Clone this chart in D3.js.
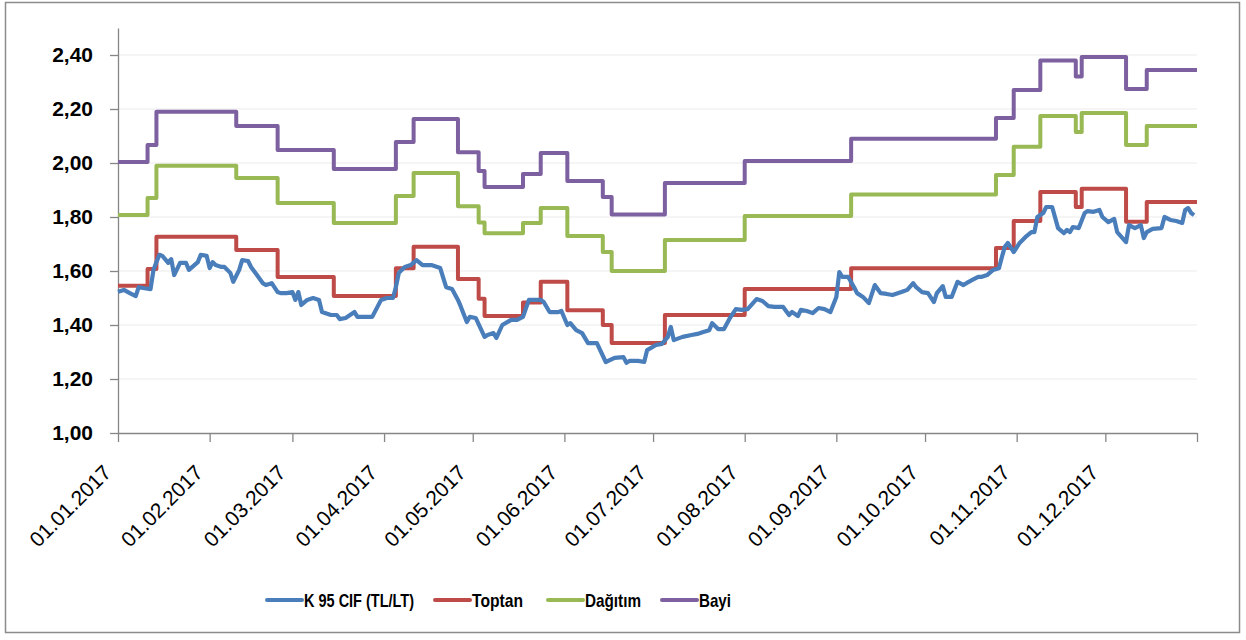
<!DOCTYPE html>
<html>
<head>
<meta charset="utf-8">
<script src="https://cdn.jsdelivr.net/npm/d3@7"></script>
<style>
    body { margin: 0; background: #fff; }
    text { font-family: "Liberation Sans", Arial, sans-serif; }
</style>
</head>
<body>
<div id="chart"></div>
<script>
const CANVAS = { w: 1246, h: 640 };
const PLOT = { left: 118, right: 1197, top: 28, bottom: 433 };

const startDate = new Date(2017, 0, 1);
const endDate = new Date(2018, 0, 1);

const yTicks = [1.0, 1.2, 1.4, 1.6, 1.8, 2.0, 2.2, 2.4];
const monthTicks = d3.timeMonth.range(startDate, endDate);

const seriesNames = ["K 95 CIF (TL/LT)", "Toptan", "Dağıtım", "Bayi"];
const seriesColors = ["#4a7ebb", "#be4b48", "#98b954", "#7d60a0"];

// [day of year, TL/LT]
const cifData = [
    [0, 1.523], [2, 1.53], [4, 1.518], [6, 1.507], [7, 1.54], [9, 1.536], [11, 1.533],
    [12, 1.604], [13, 1.633], [14, 1.66], [15, 1.656], [17, 1.63], [18, 1.644], [19, 1.585],
    [21, 1.63], [23, 1.63], [24, 1.604], [27, 1.633], [28, 1.66], [30, 1.656], [31, 1.611],
    [32, 1.633], [33, 1.622], [35, 1.615], [36, 1.615], [38, 1.593], [39, 1.56], [41, 1.604],
    [42, 1.64], [44, 1.637], [45, 1.615], [47, 1.585], [49, 1.555], [50, 1.548], [52, 1.555],
    [54, 1.522], [55, 1.518], [57, 1.518], [59, 1.522], [60, 1.493], [61, 1.522], [62, 1.474],
    [64, 1.493], [66, 1.5], [68, 1.493], [69, 1.448], [72, 1.437], [74, 1.437], [75, 1.422],
    [77, 1.426], [80, 1.448], [81, 1.43], [84, 1.43], [86, 1.43], [89, 1.493], [91, 1.5],
    [93, 1.5], [94, 1.54], [95, 1.593], [97, 1.615], [99, 1.622], [101, 1.64], [103, 1.622],
    [106, 1.622], [108, 1.615], [109, 1.611], [111, 1.54], [113, 1.533], [115, 1.493],
    [116, 1.467], [118, 1.411], [119, 1.43], [121, 1.426], [124, 1.356], [125, 1.363],
    [127, 1.37], [128, 1.352], [130, 1.40], [133, 1.419], [135, 1.419], [137, 1.43],
    [139, 1.493], [143, 1.493], [144, 1.485], [146, 1.448], [149, 1.448], [150, 1.452],
    [152, 1.40], [153, 1.407], [155, 1.381], [157, 1.37], [159, 1.333], [162, 1.333],
    [165, 1.263], [168, 1.278], [171, 1.281], [172, 1.26], [173, 1.267], [176, 1.267],
    [178, 1.263], [179, 1.307], [182, 1.326], [184, 1.33], [186, 1.356], [187, 1.393],
    [188, 1.344], [191, 1.356], [194, 1.363], [196, 1.367], [198, 1.374], [200, 1.381],
    [201, 1.407], [203, 1.385], [205, 1.385], [207, 1.426], [209, 1.459], [211, 1.456],
    [213, 1.459], [216, 1.496], [218, 1.489], [220, 1.47], [222, 1.467], [225, 1.467],
    [227, 1.437], [228, 1.448], [230, 1.433], [231, 1.456], [233, 1.452], [235, 1.444],
    [237, 1.463], [239, 1.459], [241, 1.448], [243, 1.504], [244, 1.596], [245, 1.578],
    [247, 1.578], [249, 1.54], [250, 1.518], [252, 1.504], [254, 1.481], [256, 1.548],
    [258, 1.518], [260, 1.515], [262, 1.511], [265, 1.522], [267, 1.53], [269, 1.555],
    [270, 1.54], [272, 1.522], [274, 1.518], [276, 1.485], [277, 1.518], [279, 1.544],
    [280, 1.504], [282, 1.504], [284, 1.56], [286, 1.548], [287, 1.555], [289, 1.567],
    [291, 1.578], [292, 1.578], [294, 1.585], [296, 1.604], [298, 1.61], [299, 1.652],
    [300, 1.69], [301, 1.704], [303, 1.67], [305, 1.704], [307, 1.726], [309, 1.744],
    [310, 1.744], [311, 1.80], [313, 1.815], [314, 1.837], [316, 1.837], [318, 1.759],
    [320, 1.74], [321, 1.752], [322, 1.744], [323, 1.763], [325, 1.759], [327, 1.815],
    [328, 1.822], [330, 1.819], [332, 1.826], [333, 1.80], [335, 1.781], [337, 1.793],
    [338, 1.744], [341, 1.707], [342, 1.77], [344, 1.759], [346, 1.77], [347, 1.722],
    [348, 1.744], [350, 1.756], [353, 1.759], [354, 1.80], [356, 1.789], [358, 1.785],
    [360, 1.778], [361, 1.826], [362, 1.833], [363, 1.815], [364, 1.807]
];

// price changes: [day of year, new value]
const toptanSteps = [
    [0, 1.545], [10, 1.607], [13, 1.727], [40, 1.678], [54, 1.578], [73, 1.507], [94, 1.61],
    [100, 1.69], [115, 1.57], [122, 1.497], [124, 1.433], [137, 1.483], [143, 1.56],
    [152, 1.455], [164, 1.40], [167, 1.333], [185, 1.437], [212, 1.533], [248, 1.61],
    [297, 1.685], [303, 1.785], [312, 1.893], [324, 1.837], [326, 1.905], [341, 1.782],
    [348, 1.856]
];
const dagitimSteps = [
    [0, 1.807], [10, 1.87], [13, 1.99], [40, 1.944], [54, 1.852], [73, 1.778], [94, 1.878],
    [100, 1.963], [115, 1.84], [122, 1.78], [124, 1.74], [137, 1.778], [143, 1.833],
    [152, 1.73], [164, 1.67], [167, 1.60], [185, 1.715], [212, 1.804], [248, 1.883],
    [297, 1.956], [303, 2.06], [312, 2.174], [324, 2.115], [326, 2.185], [341, 2.067],
    [348, 2.137]
];
const bayiSteps = [
    [0, 2.004], [10, 2.067], [13, 2.19], [40, 2.137], [54, 2.048], [73, 1.978], [94, 2.078],
    [100, 2.163], [115, 2.04], [122, 1.97], [124, 1.911], [137, 1.959], [143, 2.037],
    [152, 1.933], [164, 1.874], [167, 1.809], [185, 1.926], [212, 2.007], [248, 2.09],
    [297, 2.167], [303, 2.27], [312, 2.38], [324, 2.32], [326, 2.393], [341, 2.274],
    [348, 2.344]
];

const toDate = day => d3.timeDay.offset(startDate, day);
const withEnd = steps => steps.concat([[365, steps[steps.length - 1][1]]]);

const x = d3.scaleTime()
    .domain([startDate, endDate])
    .range([PLOT.left, PLOT.right]);

const y = d3.scaleLinear()
    .domain([1, 2.5])
    .range([PLOT.bottom, PLOT.top]);

const svg = d3.select("#chart")
    .append("svg")
    .attr("width", CANVAS.w)
    .attr("height", CANVAS.h);

svg.append("rect")
    .attr("x", 5.5)
    .attr("y", 2.5)
    .attr("width", 1234)
    .attr("height", 630)
    .attr("fill", "#fff")
    .attr("stroke", "#8c8c8c")
    .attr("stroke-width", 1.5);

// gridlines
svg.append("g")
    .selectAll("line")
    .data(yTicks.filter(d => d > 1))
    .enter()
    .append("line")
    .attr("x1", PLOT.left)
    .attr("x2", PLOT.right)
    .attr("y1", d => y(d))
    .attr("y2", d => y(d))
    .attr("stroke", "#ebebeb")
    .attr("stroke-width", 1);

const yAxis = svg.append("g")
    .attr("transform", `translate(${PLOT.left},0)`)
    .call(d3.axisLeft(y)
        .tickValues(yTicks)
        .tickSize(8)
        .tickSizeOuter(0)
        .tickPadding(17)
        .tickFormat(d => d.toFixed(2).replace(".", ",")));

yAxis.selectAll("text")
    .style("font-size", "21px")
    .style("font-weight", "bold")
    .attr("fill", "#000");

const xAxis = svg.append("g")
    .attr("transform", `translate(0,${PLOT.bottom})`)
    .call(d3.axisBottom(x)
        .tickValues(monthTicks.concat([endDate]))
        .tickSize(9)
        .tickSizeOuter(0)
        .tickFormat(d => +d === +endDate ? "" : d3.timeFormat("%d.%m.%Y")(d)));

xAxis.selectAll("text")
    .attr("y", 0)
    .attr("dy", 0)
    .attr("transform", "translate(-6,41) rotate(-45)")
    .style("text-anchor", "end")
    .style("font-size", "21px")
    .attr("fill", "#000");

svg.selectAll(".domain, .tick line")
    .attr("stroke", "#868686")
    .attr("stroke-width", 1.3);

// series
const stepLine = d3.line()
    .x(d => x(toDate(d[0])))
    .y(d => y(d[1]))
    .curve(d3.curveStepAfter);

const cifLine = d3.line()
    .x(d => x(toDate(d[0])))
    .y(d => y(d[1]));

const stepSeries = [bayiSteps, dagitimSteps, toptanSteps];
const stepColors = [seriesColors[3], seriesColors[2], seriesColors[1]];

svg.append("g")
    .selectAll("path")
    .data(stepSeries)
    .enter()
    .append("path")
    .attr("d", d => stepLine(withEnd(d)))
    .attr("fill", "none")
    .attr("stroke", (d, i) => stepColors[i])
    .attr("stroke-width", 4)
    .attr("stroke-linejoin", "round");

svg.append("path")
    .attr("d", cifLine(cifData))
    .attr("fill", "none")
    .attr("stroke", seriesColors[0])
    .attr("stroke-width", 4.2)
    .attr("stroke-linejoin", "round");

// legend
const legendX = [267, 435, 548, 662];
const legendTextW = [110, 51, 56, 32];

const legend = svg.append("g")
    .selectAll("g")
    .data(seriesNames)
    .enter()
    .append("g")
    .attr("transform", (d, i) => `translate(${legendX[i]},600)`);

legend.append("line")
    .attr("x1", 0)
    .attr("x2", 35)
    .attr("stroke", (d, i) => seriesColors[i])
    .attr("stroke-width", 4)
    .attr("stroke-linecap", "round");

legend.append("text")
    .attr("x", 37)
    .attr("dy", "0.36em")
    .attr("textLength", (d, i) => legendTextW[i])
    .attr("lengthAdjust", "spacingAndGlyphs")
    .style("font-size", "19px")
    .style("font-weight", "bold")
    .text(d => d);
</script>
</body>
</html>
